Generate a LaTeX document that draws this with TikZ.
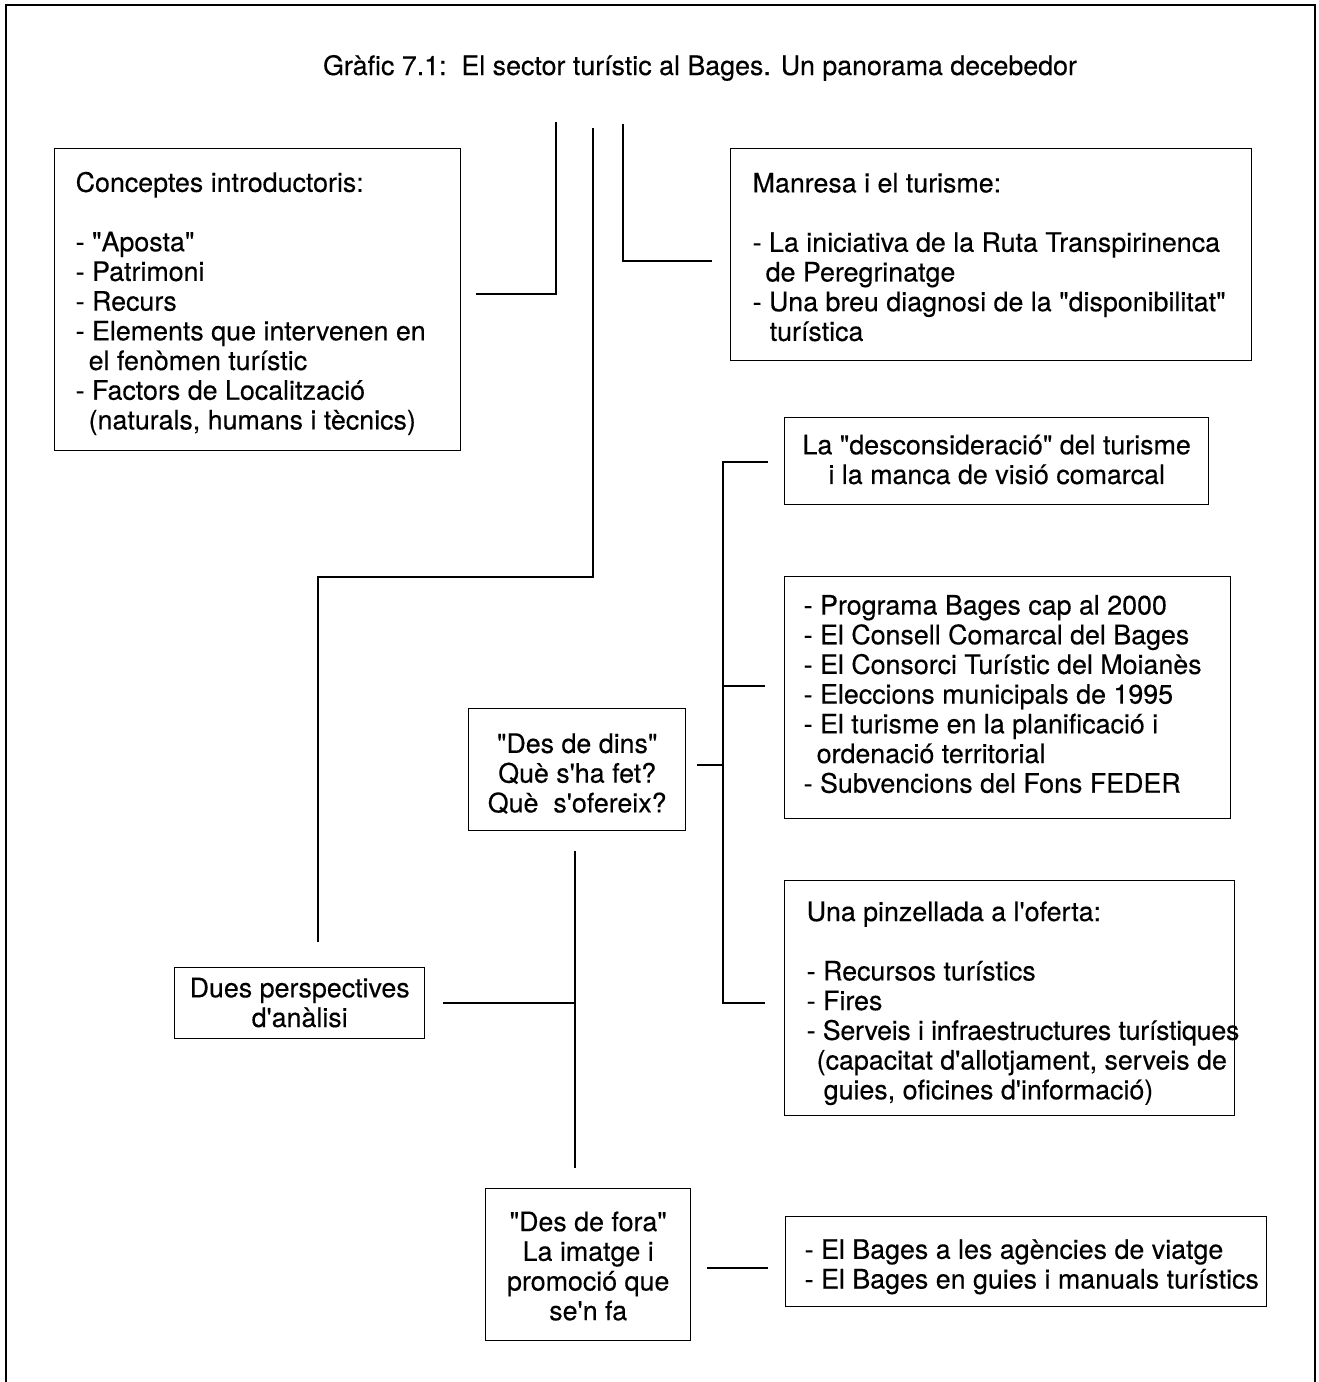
\documentclass[tikz,border=0pt]{standalone}
\usepackage{fontspec}
\setmainfont{TeX Gyre Heros}[Ligatures=TeXOff, FakeBold=0.3]
\newcommand\diagfont{\fontsize{26.8}{29.7}\selectfont}
% #1 = downward shift of the text inside its box
\newcommand\dropby[2]{\raisebox{0pt}[\height][\dimexpr\depth-2\dimexpr#1\relax\relax]{#2}}
\newcommand\leftlines[3]{\dropby{#2}{\makebox[#1][l]{\begin{tabular}{@{}l@{}}#3\end{tabular}}}}
\newcommand\midlines[2]{\dropby{#1}{\begin{tabular}{@{}c@{}}#2\end{tabular}}}
\newcommand\tightline[1]{{\addfontfeature{LetterSpace=-1.0}#1}}
\begin{document}
\begin{tikzpicture}[x=1pt,y=-1pt,
  box/.style={draw, line width=1.4pt, anchor=north west, inner ysep=0pt, font=\diagfont},
  cbox/.style={box, inner xsep=0pt},
  conn/.style={line width=1.4pt},
  frame/.style={line width=2pt}]
\useasboundingbox (0,0) rectangle (1319,1382);
\draw[frame] (6,1382) -- (6,5) -- (1315,5) -- (1315,1382);

\node[font=\diagfont, anchor=base] (title) at (700,75)
  {Gràfic 7.1:\ \ El sector turístic al Bages. Un panorama decebedor};

\node[box, inner xsep=21pt, minimum height=302pt] (conc) at (54,148)
  {\leftlines{364pt}{5pt}{Conceptes introductoris:\\ \\
   - "Aposta"\\
   - Patrimoni\\
   - Recurs\\
   - Elements que intervenen en\\
   \hspace*{13pt}el fenòmen turístic\\
   - Factors de Localització\\
   \hspace*{13pt}(naturals, humans i tècnics)}};

\node[box, inner xsep=22pt, minimum height=212pt] (manr) at (730,148)
  {\leftlines{477pt}{6pt}{Manresa i el turisme:\\ \\
   - La iniciativa de la Ruta Transpirinenca\\
   \hspace*{13pt}de Peregrinatge\\
   - Una breu diagnosi de la "disponibilitat"\\
   \hspace*{17pt}turística}};

\node[cbox, minimum width=424pt, minimum height=87pt] (desc) at (784,417)
  {\midlines{2pt}{La "desconsideració" del turisme\\ i la manca de visió comarcal}};

\node[box, inner xsep=19pt, minimum height=242pt] (prog) at (784,576)
  {\leftlines{408pt}{0pt}{- Programa Bages cap al 2000\\
   - El Consell Comarcal del Bages\\
   - El Consorci Turístic del Moianès\\
   - Eleccions municipals de 1995\\
   - El turisme en la planificació i\\
   \hspace*{13pt}ordenació territorial\\
   - Subvencions del Fons FEDER}};

\node[box, inner xsep=22pt, minimum height=235pt] (pinz) at (784,880)
  {\leftlines{406pt}{6pt}{Una pinzellada a l'oferta:\\ \\
   - Recursos turístics\\
   - Fires\\
   \tightline{- Serveis i infraestructures turístiques}\\
   \hspace*{10pt}(capacitat d'allotjament, serveis de\\
   \hspace*{17pt}guies, oficines d'informació)}};

\node[cbox, minimum width=217pt, minimum height=122pt] (dins) at (468,708)
  {\midlines{7pt}{"Des de dins"\\ Què s'ha fet?\\ Què\ \ s'ofereix?}};

\node[cbox, minimum width=250pt, minimum height=71pt] (dues) at (174,967)
  {\midlines{3pt}{Dues perspectives\\ d'anàlisi}};

\node[cbox, minimum width=205pt, minimum height=152pt] (fora) at (485,1188)
  {\midlines{5pt}{"Des de fora"\\ La imatge i\\ promoció que\\ se'n fa}};

\node[box, inner xsep=19pt, minimum height=90pt] (agen) at (785,1216)
  {\leftlines{443pt}{6pt}{- El Bages a les agències de viatge\\
   - El Bages en guies i manuals turístics}};

% free ends of connectors
\coordinate (c1a) at (476,294);
\coordinate (c1b) at (556,294);
\coordinate (c1c) at (556,122);
\coordinate (c2a) at (593,128);
\coordinate (c2b) at (593,577);
\coordinate (c2c) at (318,577);
\coordinate (c2d) at (318,942);
\coordinate (c3a) at (623,124);
\coordinate (c3b) at (623,261);
\coordinate (c3c) at (712,261);
\coordinate (d0) at (697,765);
\coordinate (d1) at (723,765);
\coordinate (dtop) at (723,462);
\coordinate (dtopE) at (768,462);
\coordinate (dmid) at (723,686);
\coordinate (dmidE) at (765,686);
\coordinate (dbot) at (723,1003);
\coordinate (dbotE) at (765,1003);
\coordinate (g0) at (443,1003);
\coordinate (g1) at (575,1003);
\coordinate (gtop) at (575,851);
\coordinate (gbot) at (575,1168);
\coordinate (h0) at (707,1268);
\coordinate (h1) at (768,1268);

\draw[conn] (c1a) -- (c1b) -- (c1c);
\draw[conn] (c2a) -- (c2b) -- (c2c) -- (c2d);
\draw[conn] (c3a) -- (c3b) -- (c3c);
\draw[conn] (d0) -- (d1);
\draw[conn] (dtopE) -- (dtop) -- (dbot) -- (dbotE);
\draw[conn] (dmid) -- (dmidE);
\draw[conn] (g0) -- (g1);
\draw[conn] (gtop) -- (gbot);
\draw[conn] (h0) -- (h1);
\end{tikzpicture}
\end{document}
